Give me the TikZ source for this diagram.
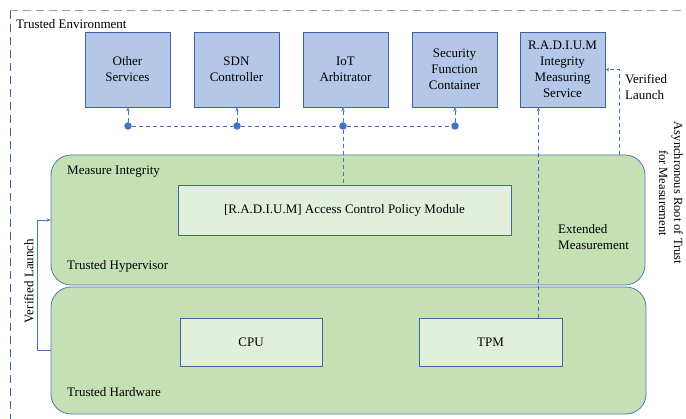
\documentclass[tikz,border=0pt]{standalone}
\usepackage{fontspec}
\setmainfont{Liberation Serif}
\usetikzlibrary{arrows.meta}
\definecolor{topfill}{HTML}{B4C7E7}
\definecolor{topdraw}{HTML}{3F63A8}
\definecolor{grfill}{HTML}{C5E0B4}
\definecolor{grdraw}{HTML}{5576B0}
\definecolor{infill}{HTML}{E2EFDA}
\definecolor{indraw}{HTML}{41679F}
\definecolor{lnblue}{HTML}{4472C4}
\definecolor{envtop}{HTML}{8CA0C6}
\definecolor{envleft}{HTML}{3D63AA}
\begin{document}
\begin{tikzpicture}[x=1pt,y=-1pt, font=\fontsize{13}{16}\selectfont,
 svc/.style={draw=topdraw, fill=topfill, line width=0.8pt, minimum width=85pt, minimum height=75pt, align=center, inner sep=0pt},
 layer/.style={draw=grdraw, fill=grfill, line width=0.8pt, rounded corners=20pt, inner sep=0pt},
 comp/.style={draw=indraw, fill=infill, line width=0.8pt, inner sep=0pt, align=center},
 bus/.style={draw=lnblue, line width=0.7pt, dash pattern=on 4pt off 3pt},
 tip/.style={-{Stealth[length=4pt,width=3.5pt]}},
 dot/.style={circle, fill=lnblue, inner sep=0pt, minimum size=7.5pt},
 lbl/.style={inner sep=0pt, anchor=west, align=left},
 envline/.style={line width=1pt, dash pattern=on 8pt off 5pt}]
\useasboundingbox (0,0) rectangle (686,419);
% environment frame
\coordinate (envc) at (10,11);
\draw[envline, envtop] (envc) -- (686,11);
\draw[envline, envleft] (envc) -- (10,419);
\node[lbl] (envlbl) at (16,24) {Trusted Environment};
% services
\node[svc] (s1) at (127.5,69.5) {Other\\Services};
\node[svc] (s2) at (236.5,69.5) {SDN\\Controller};
\node[svc] (s3) at (345.5,69.5) {IoT\\Arbitrator};
\node[svc] (s4) at (454.5,69.5) {Security\\Function\\Container};
\node[svc] (radium) at (562.5,69.5) {R.A.D.I.U.M\\Integrity\\Measuring\\Service};
% layers
\node[layer, minimum width=594pt, minimum height=130pt] (hyp) at (348,220) {};
\node[layer, minimum width=595pt, minimum height=127pt] (hw) at (348.5,350.5) {};
\node[comp, minimum width=333pt, minimum height=50pt] (acp) at (344.5,210) {[R.A.D.I.U.M] Access Control Policy Module};
\node[comp, minimum width=142pt, minimum height=48pt] (cpu) at (251,342) {CPU};
\node[comp, minimum width=143pt, minimum height=48pt] (tpm) at (490.5,342) {TPM};
% labels
\node[lbl] (mi) at (67,172) {Measure Integrity};
\node[lbl] (th) at (67,266) {Trusted Hypervisor};
\node[lbl] (thw) at (67,392) {Trusted Hardware};
\node[lbl] (ext) at (558,237) {Extended\\Measurement};
\node[lbl] (vl2) at (625,87) {Verified\\Launch};
\node[rotate=90, inner sep=0pt] (vl1) at (29,281) {Verified Launch};
\node[rotate=-90, align=center, inner sep=0pt, font=\fontsize{12.5}{15}\selectfont] (arm) at (671,193) {Asynchronous Root of Trust\\for Measurement};
% bus
\node[dot] (d1) at (128,126) {};
\node[dot] (d2) at (237,126) {};
\node[dot] (d3) at (343,126) {};
\node[dot] (d4) at (455,126) {};
\draw[bus] (d1) -- (d2) -- (d3) -- (d4);
\draw[bus,tip] (d1) -- (d1 |- s1.south);
\draw[bus,tip] (d2) -- (d2 |- s2.south);
\draw[bus,tip] (d3) -- (d3 |- s3.south);
\draw[bus,tip] (d4) -- (d4 |- s4.south);
\draw[bus] (d3) -- (d3 |- acp.north);
% measurement links
\draw[bus,tip] ([xshift=-24pt]tpm.north east) -- ([xshift=-24pt]tpm.north east |- radium.south);
\draw[bus,tip] ([xshift=-26pt]hyp.north east) |- (radium.east);
\draw[lnblue, line width=0.8pt, tip] (hw.west) -- ++(-13,0) |- (hyp.west);
\end{tikzpicture}
\end{document}
